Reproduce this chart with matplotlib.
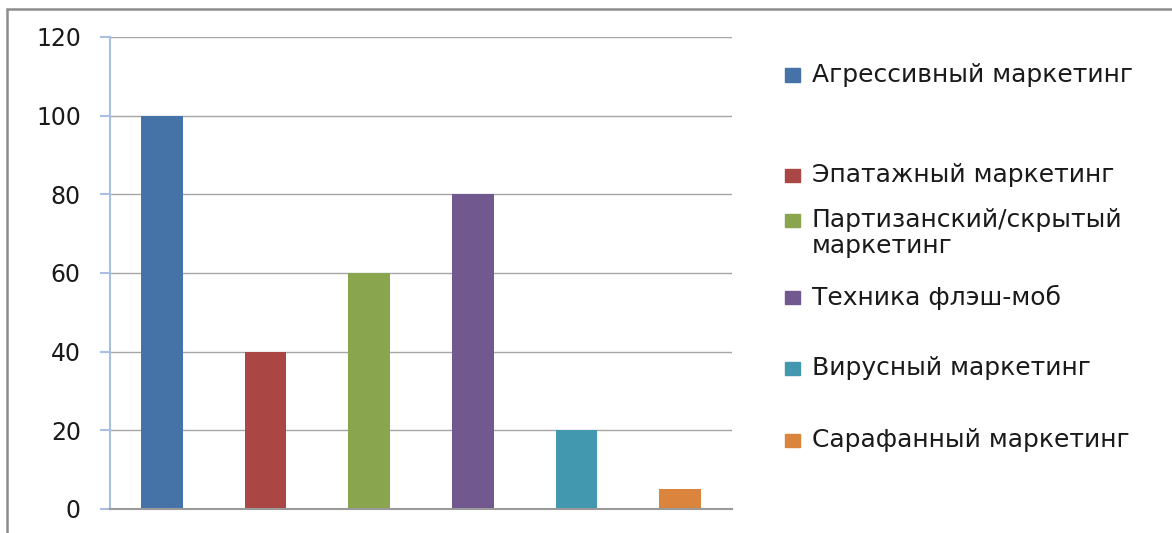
import matplotlib
matplotlib.use("Agg")
import matplotlib.pyplot as plt
from matplotlib.patches import Rectangle

# data
labels = [
    "Агрессивный маркетинг",
    "Эпатажный маркетинг",
    "Партизанский/скрытый\nмаркетинг",
    "Техника флэш-моб",
    "Вирусный маркетинг",
    "Сарафанный маркетинг",
]
values = [100, 40, 60, 80, 20, 5]
colors = ["#4572A7", "#AA4643", "#89A54E", "#71588F", "#4198AF", "#DB843D"]
yticks = [0, 20, 40, 60, 80, 100, 120]

W, H = 1172, 533
plt.rcParams["font.family"] = ["DejaVu Sans"]
fig = plt.figure(figsize=(W / 100, H / 100), dpi=100)
fig.patch.set_facecolor("white")

ax = fig.add_axes([110 / W, (H - 509) / H, (732 - 110) / W, (509 - 37) / H])

for i, (v, c) in enumerate(zip(values, colors)):
    ax.bar(i, v, width=0.4, color=c, zorder=3)

ax.set_xlim(-0.5, len(values) - 0.5)
ax.set_ylim(0, 120)
ax.set_yticks(yticks)
ax.set_xticks([])
ax.yaxis.grid(True, color="#A6A6A6", linewidth=1.0, zorder=0)
ax.set_axisbelow(True)

for s in ["top", "right"]:
    ax.spines[s].set_visible(False)
ax.spines["left"].set_color("#A9BFE3")
ax.spines["left"].set_linewidth(1.5)
ax.spines["bottom"].set_color("#9A9A9A")
ax.spines["bottom"].set_linewidth(1.5)
ax.spines["bottom"].set_zorder(4)
ax.tick_params(axis="y", direction="out", length=7, width=1.5, color="#A9BFE3",
               pad=14, labelsize=17, labelcolor="#1A1A1A")

# legend drawn by hand, Excel-like uneven spacing
leg_y = [75, 175, 220, 297, 368, 440]
for lab, c, y in zip(labels, colors, leg_y):
    fig.patches.append(Rectangle((785 / W, (H - y - 6.5) / H), 15 / W, 13 / H,
                                 transform=fig.transFigure, color=c, figure=fig))
    fig.text(812 / W, (H - y + 12) / H, lab, fontsize=18, color="#1A1A1A",
             va="top", ha="left", linespacing=1.12)

# outer frame (only top and left visible)
fig.patches.append(Rectangle((7 / W, -0.2), 1.2, (H - 9) / H + 0.2,
                             transform=fig.transFigure, fill=False,
                             edgecolor="#8C8C8C", linewidth=1.8, figure=fig,
                             clip_on=False))

fig.savefig("out.png", dpi=100)
